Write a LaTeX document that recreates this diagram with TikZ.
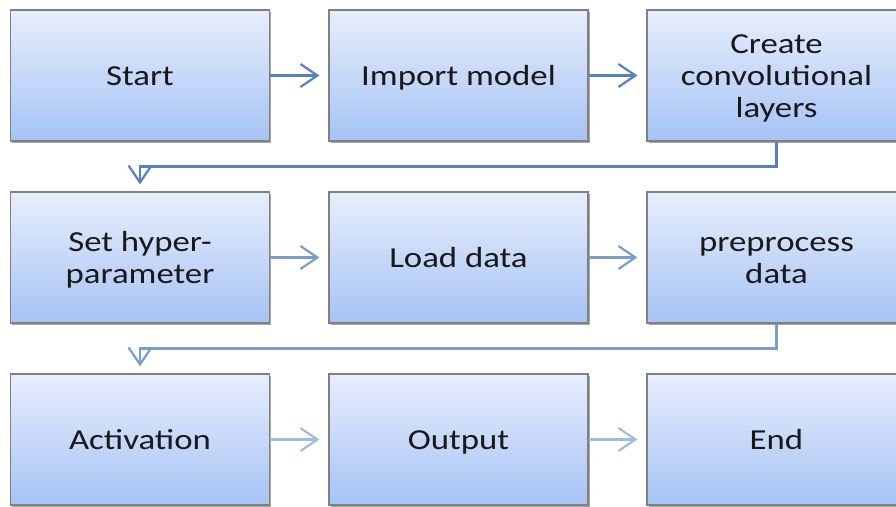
\documentclass[tikz,border=0pt]{standalone}
\usepackage{fontspec}
\setmainfont[FakeStretch=1.2]{Carlito}
\usetikzlibrary{arrows.meta,shadows,calc}
\definecolor{boxtop}{RGB}{231,238,252}
\definecolor{boxbot}{RGB}{166,195,244}
\definecolor{boxline}{RGB}{128,128,128}
\definecolor{arrA}{RGB}{84,130,190}
\definecolor{arrB}{RGB}{122,157,208}
\definecolor{arrC}{RGB}{163,185,222}
\definecolor{txt}{RGB}{25,25,25}
\newcommand{\boxline}[1]{\rule[-6.5pt]{0pt}{32pt}#1}
\tikzset{
  flowbox/.style={draw=boxline, line width=1.2pt, top color=boxtop, bottom color=boxbot,
    minimum width=259pt, minimum height=131pt, align=center, inner sep=0pt,
    font=\fontsize{29pt}{32pt}\selectfont, text=txt,
    drop shadow={shadow xshift=1.5pt, shadow yshift=-2pt, opacity=0.35, fill=black}},
  conn/.style={line width=2.2pt, -{Straight Barb[length=17pt,width=23pt,line width=2.2pt]}},
}
\begin{document}
\begin{tikzpicture}[x=1pt,y=-1pt]
\useasboundingbox (0,0) rectangle (896,506);
\begin{scope}
\clip (0,0) rectangle (896,506);
\node[flowbox] (start) at (140,75.5) {\boxline{Start}};
\node[flowbox] (import) at (458.5,75.5) {\boxline{Import model}};
\node[flowbox] (conv) at (776.5,75.5) {\boxline{Create}\\\boxline{convolutional}\\\boxline{layers}};
\node[flowbox] (hyper) at (140,257.5) {\boxline{Set hyper-}\\\boxline{parameter}};
\node[flowbox] (load) at (458.5,257.5) {\boxline{Load data}};
\node[flowbox] (prep) at (776.5,257.5) {\boxline{preprocess}\\\boxline{data}};
\node[flowbox] (act) at (140,439.5) {\boxline{Activation}};
\node[flowbox] (out) at (458.5,439.5) {\boxline{Output}};
\node[flowbox] (end) at (776.5,439.5) {\boxline{End}};
\end{scope}
\draw[conn, draw=arrA, shorten >=9pt] (start) -- (import);
\draw[conn, draw=arrA, shorten >=9pt] (import) -- (conv);
\draw[conn, draw=arrA, shorten >=7pt] (conv.south) |- ($(start.south)!0.5!(hyper.north)$) -- (hyper.north);
\draw[conn, draw=arrB, shorten >=9pt] (hyper) -- (load);
\draw[conn, draw=arrB, shorten >=9pt] (load) -- (prep);
\draw[conn, draw=arrB, shorten >=7pt] (prep.south) |- ($(hyper.south)!0.5!(act.north)$) -- (act.north);
\draw[conn, draw=arrC, shorten >=9pt] (act) -- (out);
\draw[conn, draw=arrC, shorten >=9pt] (out) -- (end);
\end{tikzpicture}
\end{document}
